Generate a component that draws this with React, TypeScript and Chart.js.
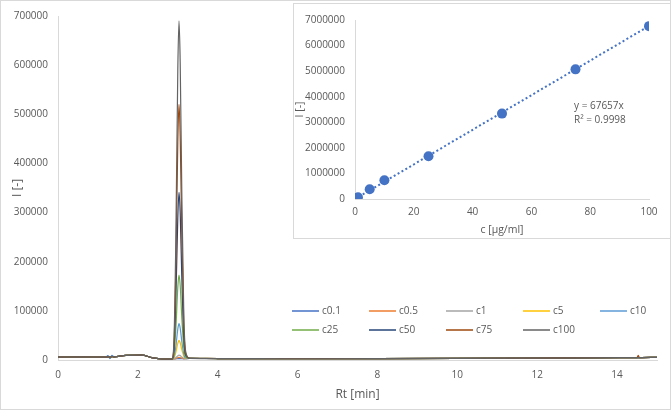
import React, { useEffect, useRef } from 'react';
import { Chart, registerables } from 'chart.js';
Chart.register(...registerables);

// ---------- main chromatogram data ----------
const TIME = [0, 0.6, 1.2, 1.25, 1.3, 1.35, 1.4, 1.7, 2.1, 2.35, 2.6, 2.85, 2.9, 2.95, 3.0, 3.03, 3.06, 3.1, 3.15, 3.2, 3.3, 4, 6, 8, 10, 12, 14, 14.5, 14.53, 14.56, 15];

const C0_1 = [6000, 6200, 6000, 9000, 3000, 9500, 6500, 9500, 9800, 5000, 2000, 1800, 2000, 2300, 2800, 3000, 2900, 2600, 2300, 2500, 3500, 3000, 2500, 2700, 3200, 3900, 4800, 5000, 5000, 5000, 5500];
const C0_5 = [6000, 6200, 6000, 7000, 5500, 7500, 6300, 9500, 9800, 5000, 2000, 1800, 2200, 3000, 4800, 5500, 5000, 3800, 2800, 2600, 3500, 3000, 2500, 2700, 3200, 3900, 4800, 5000, 5000, 5000, 5500];
const C1 = [6000, 6200, 6000, 6500, 6000, 6800, 6300, 9500, 9800, 5000, 2000, 1800, 2500, 4500, 8500, 10000, 9000, 6000, 3500, 2800, 3500, 3000, 2500, 2700, 3200, 3900, 4800, 5000, 5000, 5000, 5500];
const C5 = [6000, 6200, 6000, 6500, 6000, 6800, 6300, 9500, 9800, 5000, 2000, 1800, 3500, 15000, 34000, 40000, 35000, 21000, 7500, 3500, 3500, 3000, 2500, 2700, 3200, 3900, 4800, 5000, 5000, 5000, 5500];
const C10 = [6000, 6200, 6000, 8000, 4000, 8500, 6500, 9500, 9800, 5000, 2000, 1800, 5000, 27000, 63000, 74000, 65000, 38000, 12000, 4000, 3500, 3000, 2500, 2700, 3200, 3900, 4800, 5000, 5000, 5000, 5500];
const C25 = [6000, 6200, 6000, 6500, 6000, 6800, 6300, 9500, 9800, 5000, 2000, 1800, 9000, 62000, 148000, 173000, 152000, 87000, 25000, 6000, 3500, 3000, 2500, 2700, 3200, 3900, 4800, 5000, 5000, 5000, 5500];
const C50 = [6000, 6200, 6000, 6500, 6000, 6800, 6300, 9500, 9800, 5000, 2000, 1800, 16000, 120000, 290000, 341000, 300000, 170000, 47000, 9000, 3500, 3000, 2500, 2700, 3200, 3900, 4800, 5000, 5000, 5000, 5500];
const C75 = [6000, 6200, 6000, 6500, 6000, 6800, 6300, 9500, 9800, 5000, 2000, 1800, 23000, 180000, 444000, 520000, 456000, 258000, 70000, 12000, 3500, 3000, 2500, 2700, 3200, 3900, 4800, 5000, 9500, 5000, 5500];
const C100 = [6000, 6200, 6000, 6500, 6000, 6800, 6300, 9500, 9800, 5000, 2000, 1800, 31000, 240000, 590000, 690000, 605000, 342000, 92000, 16000, 3500, 3000, 2500, 2700, 3200, 3900, 4800, 5000, 5000, 5000, 5500];

const SERIES_NAMES = ['c0.1', 'c0.5', 'c1', 'c5', 'c10', 'c25', 'c50', 'c75', 'c100'];
const SERIES_VALUES = [C0_1, C0_5, C1, C5, C10, C25, C50, C75, C100];
const SERIES_COLORS = ['#4472C4', '#ED7D31', '#A5A5A5', '#FFC000', '#5B9BD5', '#70AD47', '#264478', '#9E480E', '#636363'];
const X_TICKS = [0, 2, 4, 6, 8, 10, 12, 14];

// ---------- calibration inset data ----------
const CONC = [0.1, 0.5, 1, 5, 10, 25, 50, 75, 100];
const AREA = [7000, 35000, 68000, 380000, 735000, 1670000, 3340000, 5070000, 6760000];
const TREND_X = [0, 100];
const TREND_Y = [0, 6765700];
const EQ_LINES = ['y = 67657x', 'R² = 0.9998'];
const EQ_POS_X = 74.5;
const EQ_POS_Y = [3630000, 3100000];

const TXT = '#595959';
const FONT = 'Open Sans';

const legendPlugin = {
  id: 'customLegend',
  afterDraw(chart: any) {
    const ctx = chart.ctx;
    const cols = [292, 369, 446, 523, 600];
    const rows = [311, 330];
    ctx.save();
    ctx.font = `10px "${FONT}"`;
    ctx.textBaseline = 'middle';
    ctx.textAlign = 'left';
    SERIES_NAMES.forEach((name, i) => {
      const x = cols[i % 5];
      const y = rows[Math.floor(i / 5)];
      ctx.strokeStyle = SERIES_COLORS[i];
      ctx.lineWidth = 1.5;
      ctx.beginPath();
      ctx.moveTo(x, y);
      ctx.lineTo(x + 27, y);
      ctx.stroke();
      ctx.fillStyle = TXT;
      ctx.fillText(name, x + 30, y);
    });
    ctx.restore();
  },
};

const framePlugin = {
  id: 'frame',
  beforeDraw(chart: any) {
    const ctx = chart.ctx;
    ctx.save();
    ctx.fillStyle = '#ffffff';
    ctx.fillRect(0, 0, chart.width, chart.height);
    ctx.restore();
  },
  afterDraw(chart: any) {
    const ctx = chart.ctx;
    ctx.save();
    ctx.strokeStyle = '#d9d9d9';
    ctx.lineWidth = 1;
    ctx.strokeRect(0.5, 0.5, 670, 409);
    ctx.restore();
  },
};

const eqPlugin = {
  id: 'eq',
  afterDraw(chart: any) {
    const ctx = chart.ctx;
    const xs = chart.scales.x;
    const ys = chart.scales.y;
    ctx.save();
    ctx.font = `10px "${FONT}"`;
    ctx.fillStyle = TXT;
    ctx.textBaseline = 'middle';
    ctx.textAlign = 'left';
    EQ_LINES.forEach((t, i) => {
      ctx.fillText(t, xs.getPixelForValue(EQ_POS_X), ys.getPixelForValue(EQ_POS_Y[i]));
    });
    ctx.restore();
  },
};

export default function App() {
  const mainRef = useRef<HTMLCanvasElement>(null);
  const insetRef = useRef<HTMLCanvasElement>(null);

  useEffect(() => {
    document.body.style.margin = '0';
    const main = new Chart(mainRef.current!, {
      type: 'line',
      data: {
        datasets: SERIES_NAMES.map((name, i) => ({
          label: name,
          data: TIME.map((t, k) => ({ x: t, y: SERIES_VALUES[i][k] })),
          borderColor: SERIES_COLORS[i],
          backgroundColor: SERIES_COLORS[i],
          borderWidth: 1.2,
          pointRadius: 0,
          cubicInterpolationMode: 'monotone',
          fill: false,
          order: SERIES_NAMES.length - 1 - i,
        })),
      },
      options: {
        animation: false,
        responsive: false,
        layout: { padding: { left: 0, right: 15, top: 16, bottom: 0 } },
        plugins: { legend: { display: false }, tooltip: { enabled: false } },
        scales: {
          x: {
            type: 'linear',
            min: 0,
            max: 15,
            afterBuildTicks: (s: any) => {
              s.ticks = X_TICKS.map((v) => ({ value: v }));
            },
            afterFit: (s: any) => {
              s.height = 51;
            },
            grid: { color: 'transparent', drawTicks: false },
            border: { display: true, color: '#d9d9d9' },
            ticks: { padding: 9, color: TXT, font: { family: FONT, size: 10 }, maxRotation: 0 },
            title: {
              display: true,
              text: 'Rt [min]',
              color: TXT,
              font: { family: FONT, size: 12 },
              padding: { top: 0, bottom: 9 },
            },
          },
          y: {
            type: 'linear',
            min: 0,
            max: 700000,
            afterFit: (s: any) => {
              s.width = 58;
            },
            grid: { color: 'transparent', drawTicks: false },
            border: { display: true, color: '#d9d9d9' },
            ticks: {
              stepSize: 100000,
              padding: 10,
              color: TXT,
              font: { family: FONT, size: 10 },
              callback: (v: any) => String(v),
            },
            title: {
              display: true,
              text: 'I [-]',
              color: TXT,
              font: { family: FONT, size: 12 },
              padding: { top: 10, bottom: 0 },
            },
          },
        },
      },
      plugins: [framePlugin, legendPlugin],
    } as any);

    const inset = new Chart(insetRef.current!, {
      type: 'scatter',
      data: {
        datasets: [
          {
            label: 'points',
            data: CONC.map((c, k) => ({ x: c, y: AREA[k] })),
            backgroundColor: '#4472C4',
            borderColor: '#4472C4',
            pointRadius: 5,
            borderWidth: 0,
            order: 0,
          },
          {
            label: 'trend',
            type: 'line',
            data: TREND_X.map((c, k) => ({ x: c, y: TREND_Y[k] })),
            borderColor: '#4472C4',
            borderWidth: 2,
            borderDash: [2, 2.5],
            pointRadius: 0,
            fill: false,
            order: 1,
          },
        ],
      },
      options: {
        animation: false,
        responsive: false,
        layout: { padding: { left: 0, right: 21, top: 10, bottom: 0 } },
        plugins: { legend: { display: false }, tooltip: { enabled: false } },
        scales: {
          x: {
            type: 'linear',
            min: 0,
            max: 100,
            afterFit: (s: any) => {
              s.height = 39;
            },
            grid: { color: 'transparent', drawTicks: false },
            border: { display: true, color: '#d9d9d9' },
            ticks: { stepSize: 20, padding: 7, color: TXT, font: { family: FONT, size: 10 }, maxRotation: 0 },
            title: {
              display: true,
              text: 'c [µg/ml]',
              color: TXT,
              font: { family: FONT, size: 10.5 },
              padding: { top: 0, bottom: 2 },
            },
          },
          y: {
            type: 'linear',
            min: 0,
            max: 7000000,
            afterFit: (s: any) => {
              s.width = 61;
            },
            grid: { color: 'transparent', drawTicks: false },
            border: { display: true, color: '#d9d9d9' },
            ticks: {
              stepSize: 1000000,
              padding: 10,
              color: TXT,
              font: { family: FONT, size: 10 },
              callback: (v: any) => String(v),
            },
            title: {
              display: true,
              text: 'I [-]',
              color: TXT,
              font: { family: FONT, size: 10.5 },
              padding: { top: 0, bottom: 0 },
            },
          },
        },
      },
      plugins: [eqPlugin],
    } as any);

    return () => {
      main.destroy();
      inset.destroy();
    };
  }, []);

  return (
    <div style={{ position: 'relative', width: 672, height: 411 }}>
      <canvas ref={mainRef} width={672} height={411} style={{ display: 'block' }} />
      <div
        style={{
          position: 'absolute',
          left: 293,
          top: 3,
          width: 378,
          height: 236,
          boxSizing: 'border-box',
          border: '1px solid #d9d9d9',
          background: '#ffffff',
        }}
      >
        <canvas ref={insetRef} width={376} height={234} style={{ display: 'block' }} />
      </div>
    </div>
  );
}
